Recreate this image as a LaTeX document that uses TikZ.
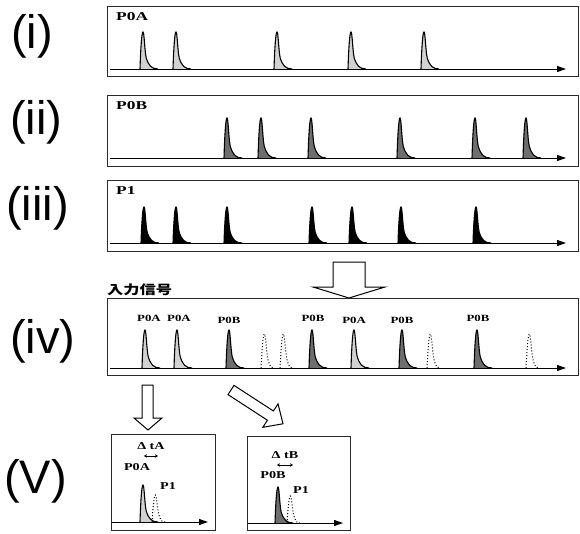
\documentclass[tikz,border=0pt]{standalone}
\usepackage{fontspec}
\usepackage{graphicx}
\setmainfont{Liberation Serif}
\newfontfamily\romanfont{Liberation Sans}
\newfontfamily\cjk{Noto Sans CJK JP}
\usetikzlibrary{arrows.meta}

\definecolor{lightA}{HTML}{D2D2D2}
\definecolor{darkB}{HTML}{6E6E6E}
\definecolor{frame}{HTML}{2A2A2A}

\newcommand\sx[1]{\scalebox{1.35}[1]{#1}}
\newcommand\sxx[1]{\scalebox{1.45}[1]{#1}}
% solid peak: start x, base y, height, style
\newcommand\pk[4]{\begin{scope}[shift={(#1,#2)},yscale=#3]
\path[#4] (0,0) .. controls (0.7,-0.6) and (1.8,-1) .. (3,-1) .. controls (4.2,-1) and (4.6,-0.5) .. (6.2,-0.3) .. controls (8.5,-0.1) and (11.5,0) .. (18,0);
\end{scope}}
% dotted peak: start x, base y, height
\newcommand\dpk[3]{\begin{scope}[shift={(#1,#2)},yscale=#3]
\path[pD] (0,0) .. controls (1,-0.5) and (2,-1) .. (3.3,-1) .. controls (4.6,-1) and (5.2,-0.5) .. (7,-0.25) .. controls (9,0) and (11,0) .. (13,0);
\end{scope}}

\tikzset{
 panel/.style={draw=frame, line width=0.9pt},
 axis/.style={line width=1pt, -{Triangle[length=9pt,width=6pt]}},
 pA/.style={fill=lightA, draw=black, line width=1.1pt},
 pB/.style={fill=darkB, draw=black, line width=1.1pt},
 pP/.style={fill=black, draw=black, line width=1.1pt},
 pD/.style={draw=black, dotted, line width=1pt},
 title/.style={font=\bfseries\fontsize{12}{12}\selectfont, inner sep=0pt, anchor=west},
 plab/.style={font=\bfseries\fontsize{9.5}{9.5}\selectfont, inner sep=0pt},
 vlab/.style={font=\bfseries\fontsize{10.5}{10.5}\selectfont, inner sep=0pt},
 roman/.style={font=\romanfont\fontsize{47}{47}\selectfont, anchor=base west, inner sep=0pt},
 hollow/.style={draw=black, line width=1pt, fill=white, line join=miter},
 dbl/.style={line width=0.6pt, {Stealth[length=3pt,width=3.5pt]}-{Stealth[length=3pt,width=3.5pt]}},
}

\begin{document}
\begin{tikzpicture}[x=1pt,y=-1pt]
\fill[white] (0,0) rectangle (580,533);
\useasboundingbox (0,0) rectangle (580,533);

% left labels
\node[roman] (li) at (11,48) {(i)};
\node[roman] (lii) at (10,134) {(ii)};
\node[roman] (liii) at (6,220) {(iii)};
\node[roman] (liv) at (10,353) {(iv)};
\node[roman] (lv) at (4,493) {(V)};

% ---------- panel (i)
\draw[panel] (107,6) rectangle (578,76);
\node[title] (tA) at (116,17) {\sxx{P0A}};
\foreach \s in {140,173,274,348,421} {\pk{\s}{69}{37}{pA}}
\coordinate (a1s) at (110,69); \coordinate (a1e) at (566,69);
\draw[axis] (a1s) -- (a1e);

% ---------- panel (ii)
\draw[panel] (107,95) rectangle (578,166);
\node[title] (tB) at (116,106) {\sxx{P0B}};
\foreach \s in {224,258,308,397,472,523} {\pk{\s}{158}{40}{pB}}
\coordinate (a2s) at (110,158); \coordinate (a2e) at (566,158);
\draw[axis] (a2s) -- (a2e);

% ---------- panel (iii)
\draw[panel] (107,180) rectangle (578,251);
\node[title] (tP) at (116,191) {\sxx{P1}};
\foreach \s in {141,173,224,309,349,398,473} {\pk{\s}{243}{36}{pP}}
\coordinate (a3s) at (110,243); \coordinate (a3e) at (566,243);
\draw[axis] (a3s) -- (a3e);

% big hollow arrow
\draw[hollow] (333,262) -- (365,262) -- (365,287) -- (385,287) -- (349,298) -- (313,287) -- (333,287) -- cycle;

% ---------- panel (iv)
\node[anchor=west, inner sep=0pt, font=\cjk\bfseries\fontsize{12.5}{12.5}\selectfont] (inp) at (107,290) {\scalebox{1.3}[1]{入力信号}};
\draw[panel] (107,298) rectangle (578,375);
\pk{142}{368}{38}{pA}
\pk{174}{368}{38}{pA}
\pk{226}{368}{38}{pB}
\dpk{261}{368}{34}
\dpk{280}{368}{34}
\pk{309}{368}{38}{pB}
\pk{351}{368}{38}{pA}
\pk{399}{368}{38}{pB}
\dpk{427}{368}{34}
\pk{474}{368}{38}{pB}
\dpk{526}{368}{34}
\coordinate (a4s) at (110,368); \coordinate (a4e) at (566,368);
\draw[axis] (a4s) -- (a4e);
\node[plab] (l1) at (149,318) {\sx{P0A}};
\node[plab] (l2) at (179,318) {\sx{P0A}};
\node[plab] (l3) at (229,320) {\sx{P0B}};
\node[plab] (l4) at (313,318) {\sx{P0B}};
\node[plab] (l5) at (354,320) {\sx{P0A}};
\node[plab] (l6) at (402,320) {\sx{P0B}};
\node[plab] (l7) at (478,318) {\sx{P0B}};

% small hollow arrows
\draw[hollow] (142,385) -- (153,385) -- (153,418) -- (162,418) -- (148,430) -- (134,418) -- (142,418) -- cycle;
\begin{scope}[shift={(231,390)}, rotate=-33]
\draw[hollow] (0,-5.5) -- (47,-5.5) -- (47,-14) -- (62,0) -- (47,14) -- (47,5.5) -- (0,5.5) -- cycle;
\end{scope}

% ---------- panel (V) left
\draw[panel] (111,434) rectangle (215,530);
\pk{140}{522}{37}{pA}
\dpk{152}{522}{27}
\coordinate (a5s) at (112,522); \coordinate (a5e) at (208,522);
\draw[axis] (a5s) -- (a5e);
\node[vlab] (dA) at (151,446) {\sx{Δ tA}};
\coordinate (dAl) at (144,456); \coordinate (dAr) at (158,456);
\draw[dbl] (dAl) -- (dAr);
\node[vlab] (vA) at (137,467) {\sx{P0A}};
\node[vlab] (vP1) at (168,486) {\sx{P1}};

% ---------- panel (V) right
\draw[panel] (247,436) rectangle (350,530);
\pk{275}{523}{36}{pB}
\dpk{287}{523}{27}
\coordinate (a6s) at (248,523); \coordinate (a6e) at (343,523);
\draw[axis] (a6s) -- (a6e);
\node[vlab] (dB) at (285,455) {\sx{Δ tB}};
\coordinate (dBl) at (277,465); \coordinate (dBr) at (293,465);
\draw[dbl] (dBl) -- (dBr);
\node[vlab] (vB) at (273,475) {\sx{P0B}};
\node[vlab] (vP2) at (301,490) {\sx{P1}};
\end{tikzpicture}
\end{document}
